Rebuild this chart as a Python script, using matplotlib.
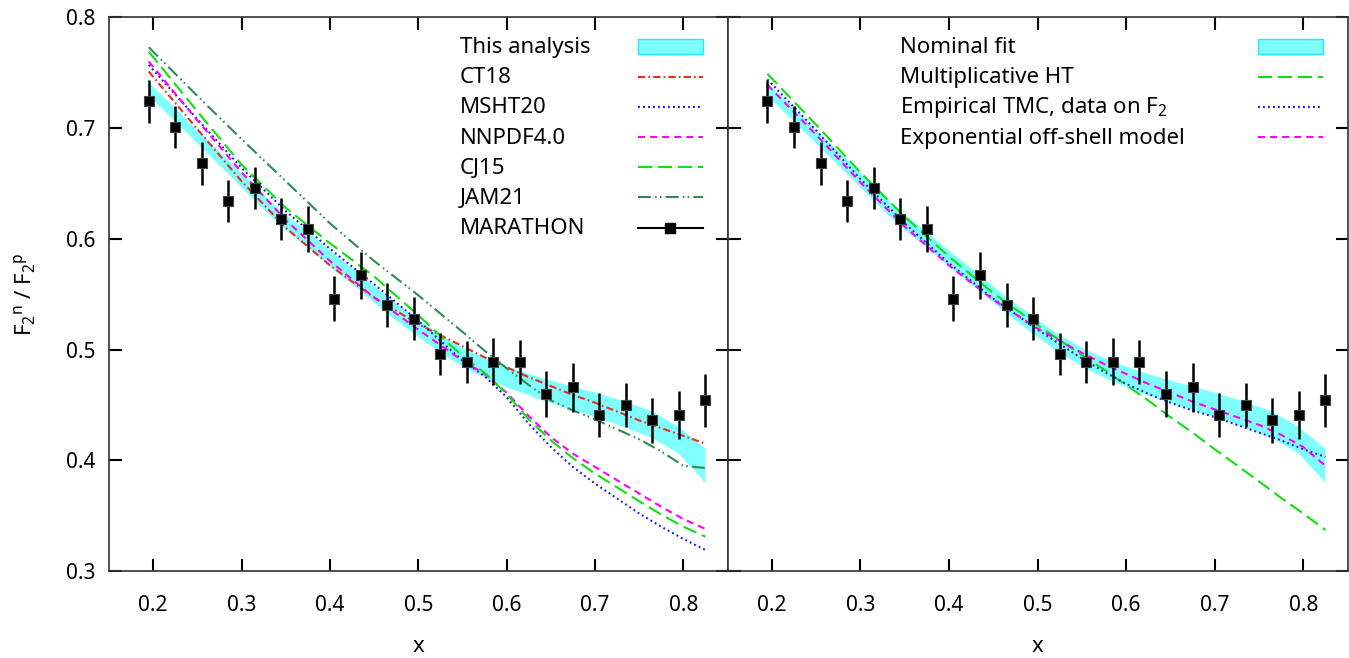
"""F2n/F2p: сравнение с глобальными PDF (слева) и вариантами модели (справа)."""
import matplotlib.pyplot as plt
import numpy as np
from matplotlib.patches import Rectangle

plt.rcParams["font.family"] = ["Noto Sans", "DejaVu Sans"]
plt.rcParams["mathtext.default"] = "regular"
plt.rcParams["font.size"] = 15
LEG_FS = 16

# MARATHON
X_DATA = [0.195, 0.225, 0.255, 0.285, 0.315, 0.345, 0.375, 0.405, 0.435, 0.465, 0.495,
          0.525, 0.555, 0.585, 0.615, 0.645, 0.675, 0.705, 0.735, 0.765, 0.795, 0.825]
R_DATA = [0.724, 0.701, 0.668, 0.634, 0.646, 0.618, 0.609, 0.546, 0.567, 0.540, 0.528,
          0.496, 0.489, 0.489, 0.489, 0.460, 0.466, 0.441, 0.450, 0.436, 0.441, 0.454]
R_ERR = [0.019, 0.019, 0.019, 0.019, 0.019, 0.019, 0.021, 0.020, 0.021, 0.020, 0.019,
         0.019, 0.019, 0.021, 0.020, 0.021, 0.022, 0.020, 0.020, 0.020, 0.022, 0.024]

# полоса неопределённости фита (центр и полуширина) в точках данных
BAND_MID = [0.735, 0.712, 0.688, 0.665, 0.641, 0.618, 0.599, 0.579, 0.560, 0.540, 0.522,
            0.505, 0.491, 0.480, 0.471, 0.463, 0.456, 0.449, 0.441, 0.432, 0.418, 0.395]
BAND_HW = [0.006, 0.006, 0.006, 0.0063, 0.0065, 0.0068, 0.007, 0.0072, 0.0074, 0.0075, 0.0078,
           0.008, 0.0085, 0.009, 0.0095, 0.010, 0.0105, 0.011, 0.0115, 0.012, 0.012, 0.0155]

# кривые
X_CURVE = [0.195, 0.25, 0.3, 0.35, 0.4, 0.45, 0.5, 0.55, 0.575, 0.6, 0.625, 0.65, 0.675,
           0.7, 0.75, 0.775, 0.8, 0.825]
CT18 = [0.751, 0.699, 0.652, 0.610, 0.576, 0.547, 0.523, 0.503, 0.493, 0.484, 0.475, 0.467, 0.459,
        0.452, 0.436, 0.429, 0.422, 0.415]
MSHT20 = [0.757, 0.708, 0.664, 0.625, 0.591, 0.559, 0.526, 0.490, 0.476, 0.457, 0.433, 0.412, 0.394,
          0.379, 0.352, 0.340, 0.329, 0.319]
NNPDF40 = [0.760, 0.707, 0.660, 0.617, 0.580, 0.547, 0.518, 0.490, 0.478, 0.461, 0.440, 0.421, 0.406,
           0.394, 0.370, 0.358, 0.347, 0.338]
CJ15 = [0.769, 0.715, 0.667, 0.628, 0.596, 0.566, 0.531, 0.494, 0.479, 0.460, 0.437, 0.418, 0.402,
        0.388, 0.363, 0.351, 0.340, 0.331]
JAM21 = [0.773, 0.729, 0.690, 0.652, 0.614, 0.580, 0.549, 0.516, 0.499, 0.483, 0.468, 0.454, 0.445,
         0.437, 0.419, 0.408, 0.395, 0.393]

MULT_HT = [0.749, 0.703, 0.660, 0.620, 0.584, 0.551, 0.522, 0.495, 0.482, 0.468, 0.454, 0.439, 0.425,
           0.410, 0.381, 0.366, 0.352, 0.337]
EMP_TMC = [0.744, 0.698, 0.654, 0.614, 0.578, 0.546, 0.518, 0.492, 0.480, 0.469, 0.460, 0.452, 0.445,
           0.439, 0.425, 0.418, 0.410, 0.403]
OFF_SHELL = [0.739, 0.694, 0.651, 0.611, 0.576, 0.545, 0.519, 0.497, 0.487, 0.478, 0.469, 0.461, 0.453,
             0.446, 0.432, 0.423, 0.412, 0.395]

BAND_FACE = "#80ffff"
BAND_EDGE = "#20e8ff"
LW = 1.5

STYLES = {
    "CT18": dict(color="#e62d1e", dashes=(3.5, 1.5, 0.8, 1.5)),
    "MSHT20": dict(color="#1a1aff", dashes=(0.9, 1.5)),
    "NNPDF4.0": dict(color="#ff00ff", dashes=(3.4, 2.4)),
    "CJ15": dict(color="#10e010", dashes=(6.7, 2.9)),
    "JAM21": dict(color="#2e8b57", dashes=(6.2, 2.0, 0.8, 1.5, 0.8, 2.0)),
}


def style_axes(ax, show_ylabels):
    ax.set_xlim(0.15, 0.85)
    ax.set_ylim(0.3, 0.8)
    ax.set_xticks([0.2, 0.3, 0.4, 0.5, 0.6, 0.7, 0.8])
    ax.set_yticks([0.3, 0.4, 0.5, 0.6, 0.7, 0.8])
    ax.tick_params(direction="in", length=9, width=1.5, top=True, right=True)
    ax.tick_params(axis="x", pad=17)
    ax.tick_params(axis="y", pad=10, labelleft=show_ylabels)
    for sp in ax.spines.values():
        sp.set_color("#333333")
        sp.set_linewidth(1.2)
    ax.set_xlabel("x", labelpad=15, fontsize=LEG_FS)


def draw_band(ax):
    mid = np.array(BAND_MID)
    hw = np.array(BAND_HW)
    ax.fill_between(X_DATA, mid - hw, mid + hw, facecolor=BAND_FACE, edgecolor="none", zorder=1)


def draw_data(ax):
    ax.errorbar(X_DATA, R_DATA, yerr=R_ERR, fmt="s", color="black", ms=7, mec="#444444",
                mew=0.8, elinewidth=1.8, capsize=0, zorder=5)


def legend_rows(ax, x_text, entries):
    # текст слева, образец справа — как в gnuplot
    y0, dy = 0.9453, 0.0545
    for i, (label, kind, kw) in enumerate(entries):
        y = y0 - i * dy
        ax.text(x_text, y, label, transform=ax.transAxes, ha="left", va="center", fontsize=LEG_FS)
        ys = y + 0.002
        if kind == "band":
            ax.add_patch(Rectangle((0.855, ys - 0.0139), 0.105, 0.0278, transform=ax.transAxes,
                                   facecolor=BAND_FACE, edgecolor=BAND_EDGE, lw=1.0, clip_on=False))
        elif kind == "data":
            ax.plot([0.855, 0.96], [ys, ys], color="black", lw=1.5, transform=ax.transAxes, clip_on=False)
            ax.plot([0.9075], [ys], "s", color="black", ms=7, transform=ax.transAxes, clip_on=False)
        else:
            ax.plot([0.855, 0.96], [ys, ys], lw=LW, transform=ax.transAxes, clip_on=False, **kw)


fig = plt.figure(figsize=(13.49, 6.58), dpi=100)
ax1 = fig.add_axes([0.0808, 0.1322, 0.4585, 0.8415])
ax2 = fig.add_axes([0.5393, 0.1322, 0.4596, 0.8415])

# левая панель: глобальные анализы
draw_band(ax1)
for name, vals in [("CT18", CT18), ("MSHT20", MSHT20), ("NNPDF4.0", NNPDF40),
                   ("CJ15", CJ15), ("JAM21", JAM21)]:
    ax1.plot(X_CURVE, vals, lw=LW, zorder=3, **STYLES[name])
draw_data(ax1)
style_axes(ax1, True)
ax1.set_ylabel(r"F$_2{}^n$ / F$_2{}^p$", va="center", fontsize=LEG_FS)
ax1.yaxis.set_label_coords(-0.136, 0.5)
legend_rows(ax1, 0.5675, [
    ("This analysis", "band", None),
    ("CT18", "line", STYLES["CT18"]),
    ("MSHT20", "line", STYLES["MSHT20"]),
    ("NNPDF4.0", "line", STYLES["NNPDF4.0"]),
    ("CJ15", "line", STYLES["CJ15"]),
    ("JAM21", "line", STYLES["JAM21"]),
    ("MARATHON", "data", None),
])

# правая панель: варианты модели
draw_band(ax2)
ax2.plot(X_CURVE, MULT_HT, lw=LW, zorder=3, **STYLES["CJ15"])
ax2.plot(X_CURVE, EMP_TMC, lw=LW, zorder=3, **STYLES["MSHT20"])
ax2.plot(X_CURVE, OFF_SHELL, lw=LW, zorder=3, **STYLES["NNPDF4.0"])
draw_data(ax2)
style_axes(ax2, False)
legend_rows(ax2, 0.2785, [
    ("Nominal fit", "band", None),
    ("Multiplicative HT", "line", STYLES["CJ15"]),
    (r"Empirical TMC, data on F$_2$", "line", STYLES["MSHT20"]),
    ("Exponential off-shell model", "line", STYLES["NNPDF4.0"]),
])

fig.savefig("out.png", dpi=100)
plt.close(fig)
